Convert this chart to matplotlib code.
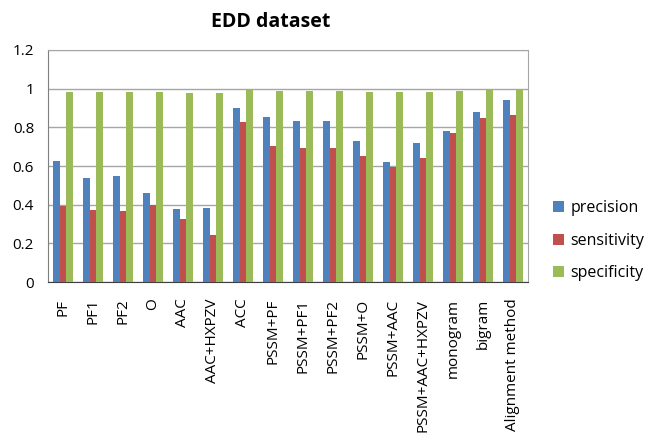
import numpy as np
import matplotlib
matplotlib.use("Agg")
import matplotlib.pyplot as plt

plt.rcParams['font.family'] = ['Open Sans', 'DejaVu Sans']

categories = ["PF", "PF1", "PF2", "O", "AAC", "AAC+HXPZV", "ACC", "PSSM+PF",
              "PSSM+PF1", "PSSM+PF2", "PSSM+O", "PSSM+AAC", "PSSM+AAC+HXPZV",
              "monogram", "bigram", "Alignment method"]
precision = [0.624, 0.536, 0.547, 0.462, 0.378, 0.384, 0.898, 0.855,
             0.833, 0.833, 0.731, 0.619, 0.717, 0.779, 0.881, 0.943]
sensitivity = [0.395, 0.374, 0.369, 0.400, 0.328, 0.245, 0.829, 0.703,
               0.693, 0.691, 0.653, 0.593, 0.641, 0.769, 0.847, 0.864]
specificity = [0.981, 0.981, 0.981, 0.981, 0.976, 0.976, 0.993, 0.990,
               0.990, 0.990, 0.984, 0.984, 0.984, 0.990, 0.993, 0.993]
series_names = ["precision", "sensitivity", "specificity"]
colors = ["#4F81BD", "#C0504D", "#9BBB59"]

fig = plt.figure(figsize=(6.56, 4.36), dpi=100)
ax = fig.add_axes([48 / 656, 1 - 282 / 436, (528 - 48) / 656, (282 - 50) / 436])

x = np.arange(len(categories))
w = 2 / 9
for i, (vals, name, c) in enumerate(zip([precision, sensitivity, specificity], series_names, colors)):
    ax.bar(x + (i - 1) * w, vals, width=w, color=c, label=name, zorder=3)

ax.set_xlim(-0.5, len(categories) - 0.5)
ax.set_ylim(0, 1.2)
ax.set_yticks(np.arange(0, 1.21, 0.2))
ax.set_yticklabels(["0", "0.2", "0.4", "0.6", "0.8", "1", "1.2"], fontsize=11)
ax.yaxis.grid(True, color="#A6A6A6", linewidth=1, zorder=0)
ax.tick_params(axis="y", length=0, pad=10)

ax.set_xticks(x)
ax.set_xticklabels(categories, rotation=90, fontsize=11, va="top", ha="center")
ax.tick_params(axis="x", length=0, pad=12)

for s in ["top", "right"]:
    ax.spines[s].set_color("#A6A6A6")
ax.spines["left"].set_color("#7F7F7F")
ax.spines["bottom"].set_color("#404040")

fig.text(271 / 656, 1 - 22 / 436, "EDD dataset", fontsize=14, fontweight="bold",
         ha="center", va="center")

ax.legend(loc="center left", bbox_to_anchor=(1.052, 0.178), frameon=False,
          fontsize=11.5, handlelength=0.7, handleheight=0.7, handletextpad=0.4,
          labelspacing=1.05, borderpad=0, borderaxespad=0)

fig.savefig("out.png", dpi=100)
